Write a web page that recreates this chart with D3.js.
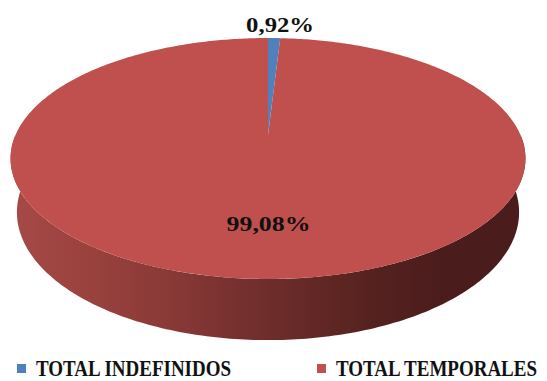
<!DOCTYPE html>
<html>
<head>
<meta charset="utf-8">
<script src="https://cdn.jsdelivr.net/npm/d3@7"></script>
<style>
  html, body { margin: 0; padding: 0; background: #fff; }
  svg { display: block; }
  text { font-family: "Liberation Serif", "DejaVu Serif", serif; font-weight: bold; fill: #111; }
</style>
</head>
<body>
<svg id="chart" width="547" height="381"></svg>
<script>
// Contract types share
const categories = ["TOTAL INDEFINIDOS", "TOTAL TEMPORALES"];
const values = [0.92, 99.08];
const valueLabels = ["0,92%", "99,08%"];
const colors = ["#4F81BD", "#C0504D"];

const svg = d3.select("#chart");

// 3D disk seen from above with a little perspective
const cx = 268, cy = 135;       // projected centre of the top face
const R = 252.5;                // disk radius
const depth = 61;               // disk thickness
const tiltSin = 0.459, tiltCos = Math.sqrt(1 - tiltSin * tiltSin);
const camDist = 1150;

function proj(theta, r, h) {
  const x = r * Math.sin(theta);
  const z = r * Math.cos(theta);
  const yUp = h * tiltCos + z * tiltSin;
  const dep = -h * tiltSin + z * tiltCos;
  const s = camDist / (camDist + dep);
  return [cx + x * s, cy - yUp * s];
}

function rim(a0, a1, h, steps) {
  const pts = [];
  for (let i = 0; i <= steps; i++) {
    const t = a0 + (a1 - a0) * i / steps;
    pts.push(proj(t, R, h));
  }
  return pts;
}

const pie = d3.pie().sort(null).value(d => d);
const arcs = pie(values);
const line = d3.line().curve(d3.curveLinear);

// side wall gradient
const defs = svg.append("defs");
const grad = defs.append("linearGradient")
  .attr("id", "wall")
  .attr("gradientUnits", "userSpaceOnUse")
  .attr("x1", 10).attr("y1", 0).attr("x2", 526).attr("y2", 0);
[[0, "#A64A46"], [0.15, "#9A423E"], [0.3, "#8A3A37"], [0.5, "#6E2D2B"],
 [0.7, "#55221F"], [0.85, "#4A1C1C"], [1, "#4A1C1C"]]
  .forEach(([o, c]) => grad.append("stop").attr("offset", o).attr("stop-color", c));

// front wall (only the red slice faces the viewer)
const wallTop = rim(Math.PI / 2, 3 * Math.PI / 2, 0, 200);
const wallBot = rim(3 * Math.PI / 2, Math.PI / 2, -depth, 200);
svg.append("path")
  .attr("d", line(wallTop.concat(wallBot)) + "Z")
  .attr("fill", "url(#wall)");

// top faces
svg.selectAll("path.slice")
  .data(arcs)
  .join("path")
  .attr("class", "slice")
  .attr("fill", (d, i) => colors[i])
  .attr("d", d => {
    const steps = Math.max(4, Math.ceil((d.endAngle - d.startAngle) * 80));
    const pts = [[cx, cy]].concat(rim(d.startAngle, d.endAngle, 0, steps));
    return line(pts) + "Z";
  });

// value labels
const small = arcs[0], big = arcs[1];
const smallMid = (small.startAngle + small.endAngle) / 2;
const sp = proj(smallMid, R, 0);
svg.append("text")
  .attr("x", sp[0] + 6).attr("y", sp[1] - 6)
  .attr("text-anchor", "middle")
  .attr("font-size", 22)
  .attr("textLength", 68).attr("lengthAdjust", "spacingAndGlyphs")
  .text(valueLabels[0]);

const bigMid = (big.startAngle + big.endAngle) / 2;
const bpp = proj(bigMid, R * 0.65, 0);
svg.append("text")
  .attr("x", bpp[0] + 6).attr("y", bpp[1] + 10)
  .attr("text-anchor", "middle")
  .attr("font-size", 22)
  .attr("textLength", 84).attr("lengthAdjust", "spacingAndGlyphs")
  .text(valueLabels[1]);

// legend (text slightly stretched vertically to match the heavier caps)
const legendX = [17, 317];
const lg = svg.append("g");
categories.forEach((c, i) => {
  lg.append("rect")
    .attr("x", legendX[i]).attr("y", 364)
    .attr("width", 9).attr("height", 9)
    .attr("fill", colors[i]);
  lg.append("text")
    .attr("transform", `translate(${legendX[i] + 19},376) scale(1,1.18)`)
    .attr("font-size", 19)
    .text(c);
});
</script>
</body>
</html>
